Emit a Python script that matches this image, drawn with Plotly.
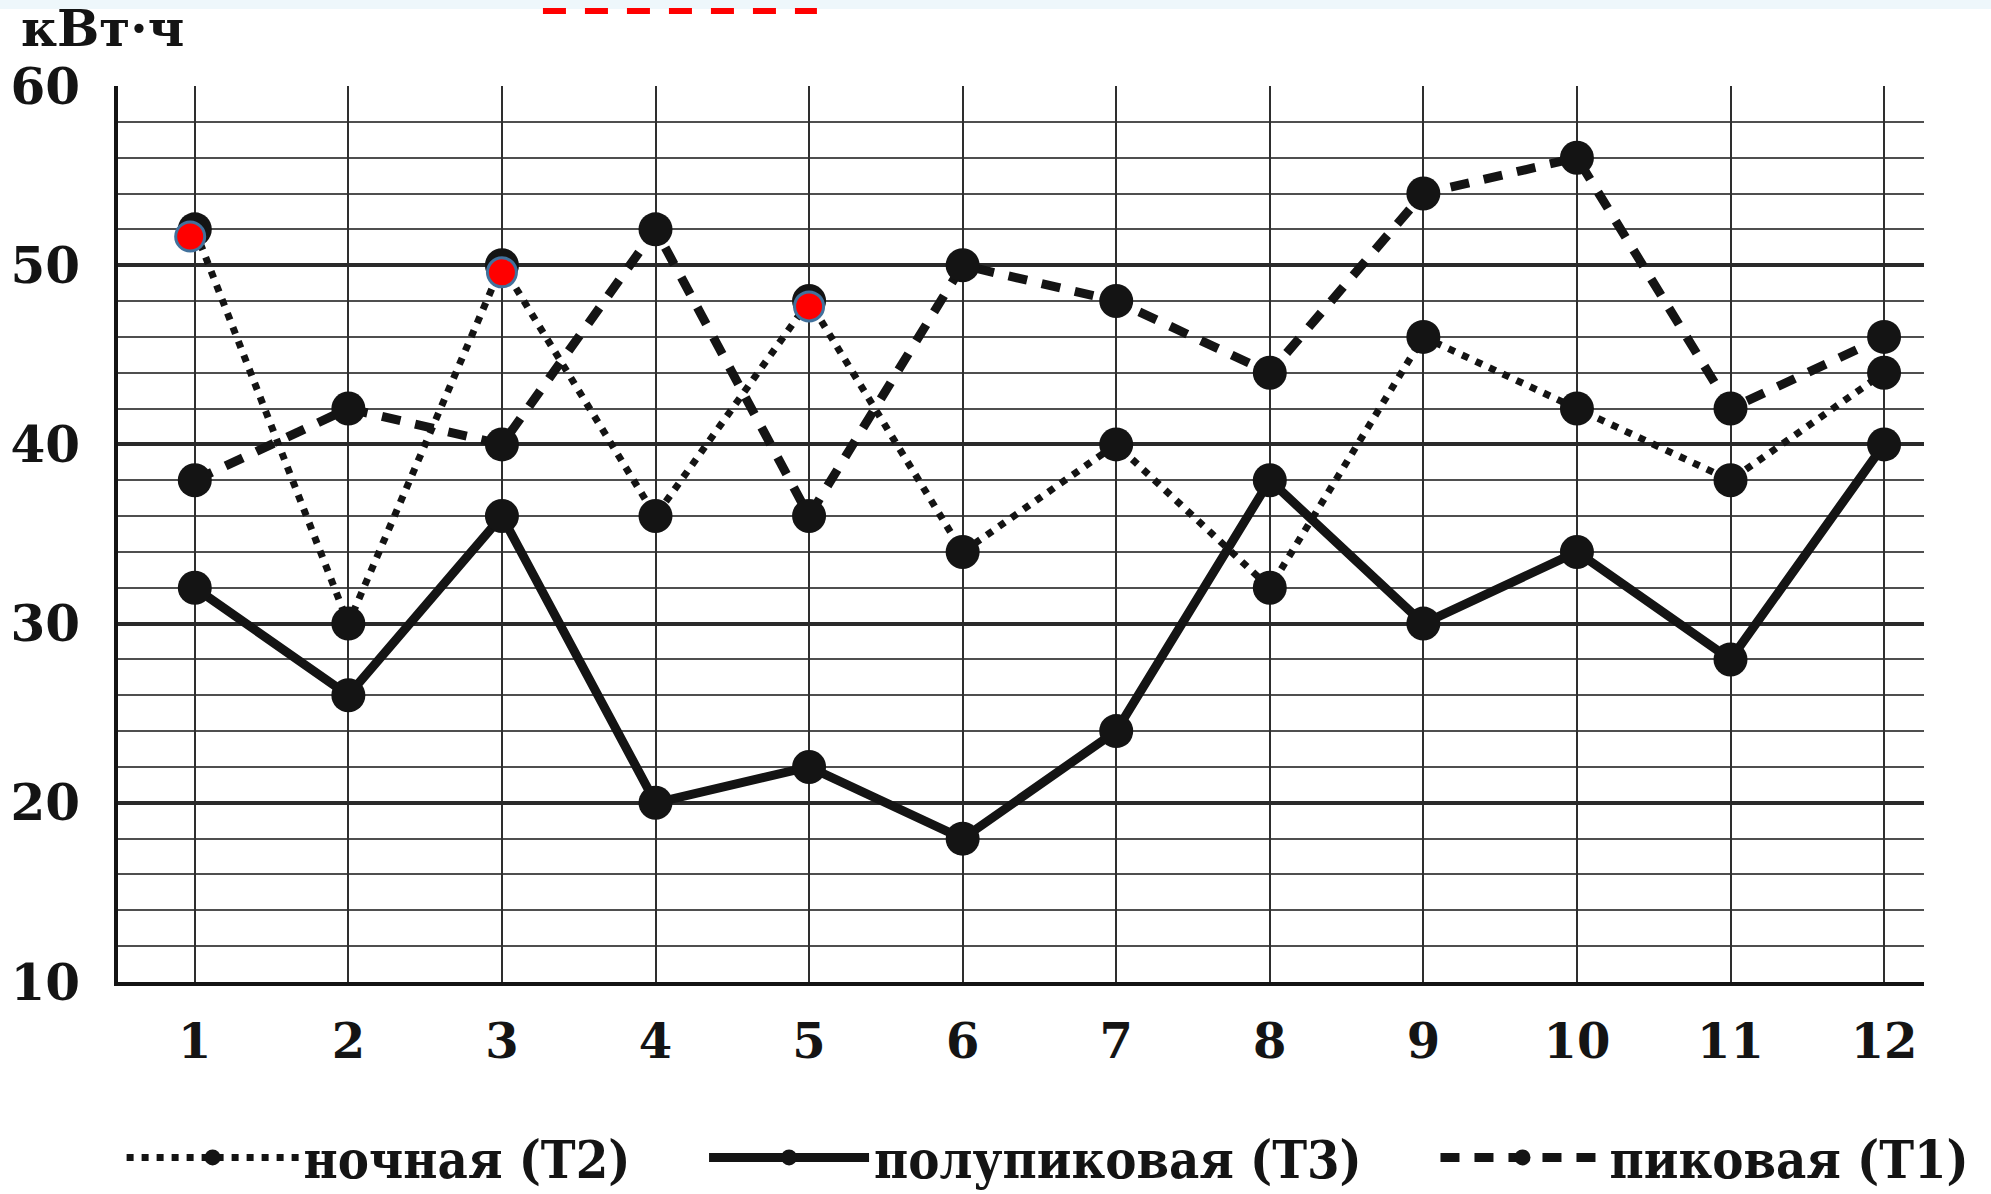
import plotly.graph_objects as go

# Monthly electricity consumption by tariff zone, kWh
months = [1, 2, 3, 4, 5, 6, 7, 8, 9, 10, 11, 12]
night_t2 = [52, 30, 50, 36, 48, 34, 40, 32, 46, 42, 38, 44]
half_peak_t3 = [32, 26, 36, 20, 22, 18, 24, 38, 30, 34, 28, 40]
peak_t1 = [38, 42, 40, 52, 36, 50, 48, 44, 54, 56, 42, 46]

# Highlighted night-tariff readings
marked_months = [0.97, 3.0, 5.0]
marked_values = [51.6, 49.6, 47.7]

y_major = [10, 20, 30, 40, 50, 60]
x_labels = [str(m) for m in months]

names = ["ночная (Т2)", "полупиковая (Т3)", "пиковая (Т1)"]

INK = "#141414"
SERIF = "DejaVu Serif"
LEGEND_FONT = dict(family="DejaVu Serif Condensed, DejaVu Serif", size=52,
                   weight="bold", color=INK)

fig = go.Figure()

fig.add_trace(go.Scatter(
    x=months, y=night_t2, name=names[0], mode="lines+markers", legend="legend",
    line=dict(color=INK, width=7, dash="7px,8px"),
    marker=dict(size=34, color=INK),
))
fig.add_trace(go.Scatter(
    x=months, y=half_peak_t3, name=names[1], mode="lines+markers", legend="legend2",
    line=dict(color=INK, width=9),
    marker=dict(size=34, color=INK),
))
fig.add_trace(go.Scatter(
    x=months, y=peak_t1, name=names[2], mode="lines+markers", legend="legend3",
    line=dict(color=INK, width=9, dash="19px,15px"),
    marker=dict(size=34, color=INK),
))
fig.add_trace(go.Scatter(
    x=marked_months, y=marked_values, mode="markers", showlegend=False,
    marker=dict(size=29, color="#ff0000", line=dict(color="#41719c", width=3)),
))


def legend_box(x, item_w):
    return dict(
        orientation="h", x=x, xanchor="left", y=-0.196, yanchor="middle",
        font=LEGEND_FONT, itemwidth=item_w, bgcolor="rgba(0,0,0,0)",
    )


fig.update_layout(
    width=1991, height=1194,
    margin=dict(l=118, r=67, t=86, b=212, autoexpand=False),
    paper_bgcolor="white", plot_bgcolor="white",
    font=dict(family=SERIF, color=INK),
    showlegend=True,
    legend=legend_box(0.002, 172),
    legend2=legend_box(0.3245, 160),
    legend3=legend_box(0.7295, 164),
    xaxis=dict(
        range=[0.5, 12.26], tickmode="array", tickvals=months, ticktext=x_labels,
        showgrid=True, gridcolor="#2e2e2e", gridwidth=2,
        showline=True, linecolor=INK, linewidth=4,
        ticks="", ticklabelstandoff=14, zeroline=False,
        tickfont=dict(family=SERIF, size=48, weight="bold", color=INK),
    ),
    yaxis=dict(
        range=[10, 60], tickmode="array", tickvals=y_major,
        showgrid=True, gridcolor="#2a2a2a", gridwidth=3.5,
        minor=dict(dtick=2, tick0=10, showgrid=True, gridcolor="#4f4f4f", gridwidth=2),
        showline=True, linecolor=INK, linewidth=4,
        ticks="", ticklabelstandoff=24, zeroline=False,
        tickfont=dict(family=SERIF, size=50, weight="bold", color=INK),
    ),
)

# Unit label above the value axis
fig.add_annotation(
    text="кВт·ч", xref="paper", yref="paper", x=-0.055, y=1.0,
    xanchor="left", yanchor="bottom", yshift=26, showarrow=False,
    font=dict(family=SERIF, size=50, weight="bold", color=INK),
)

# Pale strip along the top edge and the red dashed marker line
fig.add_shape(
    type="rect", xref="paper", yref="paper", x0=-0.07, x1=1.04,
    ysizemode="pixel", yanchor=1.0, y0=77, y1=90,
    fillcolor="#eef7fb", line=dict(width=0), layer="below",
)
fig.add_shape(
    type="line", xref="paper", yref="paper", x0=0.2353, x1=0.3870,
    ysizemode="pixel", yanchor=1.0, y0=75, y1=75,
    line=dict(color="#ff0000", width=6, dash="23px,19px"),
)

fig.write_html("out.html")
